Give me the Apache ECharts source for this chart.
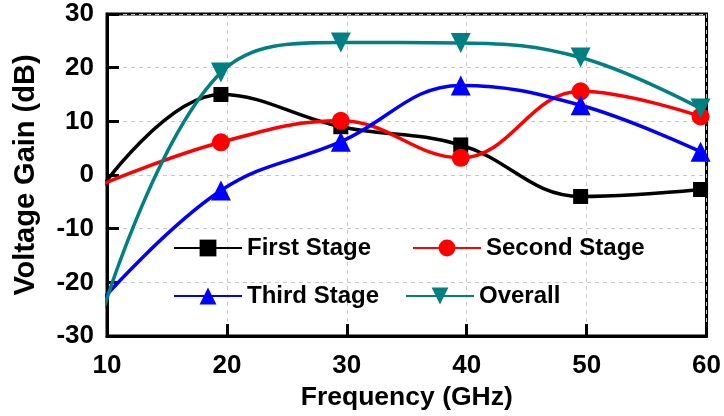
<!DOCTYPE html>
<html>
<head>
<meta charset="utf-8">
<script src="https://cdn.jsdelivr.net/npm/echarts/dist/echarts.min.js"></script>
<style>
  html, body { margin: 0; padding: 0; background: #fff; }
  #main { width: 724px; height: 416px; }
</style>
</head>
<body>
<div id="main"></div>
<script>
// frequencies (GHz) where the points were measured
const freq = [9.5, 19.5, 29.5, 39.5, 49.5, 59.5]
// voltage gain (dB) per stage
const firstStage = [-2.5, 15.0, 9.0, 5.6, -4.0, -2.7]
const secondStage = [-1.8, 6.1, 10.1, 3.2, 15.6, 10.9]
const thirdStage = [-23.5, -2.9, 6.2, 16.7, 13.0, 4.35]
const overall = [-26.5, 19.1, 24.7, 24.6, 21.9, 12.4]

const xMin = 10, xMax = 60, xStep = 10
const yMin = -30, yMax = 30, yStep = 10

const font = 'Liberation Sans, Arial, sans-serif'

function pairs(vals) {
  return freq.map((f, i) => [f, vals[i]])
}

function makeSeries(name, vals, color, symbol, size, rotate) {
  return {
    name: name,
    type: 'line',
    data: pairs(vals),
    smooth: 0.4,
    clip: true,
    symbol: symbol,
    symbolSize: size,
    symbolRotate: rotate || 0,
    lineStyle: { color: color, width: 3.5 },
    itemStyle: { color: color },
  }
}

function legendAt(name, left, top) {
  return {
    data: [name],
    left: left,
    top: top,
    padding: 0,
    itemWidth: 68,
    itemHeight: 21,
    itemGap: 0,
    textStyle: { fontFamily: font, fontWeight: 'bold', fontSize: 24, color: '#000' },
  }
}

let myChart = echarts.init(document.getElementById('main'))
const option = {
  animation: false,
  grid: {
    left: 107,
    right: 17,
    top: 14,
    bottom: 80,
    show: true,
    borderColor: '#000',
    borderWidth: 3,
  },
  legend: [
    legendAt('First Stage', 173, 236),
    legendAt('Second Stage', 412, 236),
    legendAt('Third Stage', 173, 284),
    legendAt('Overall', 405, 284),
  ],
  xAxis: {
    type: 'value',
    min: xMin,
    max: xMax,
    interval: xStep,
    name: 'Frequency (GHz)',
    nameLocation: 'middle',
    nameGap: 45,
    nameTextStyle: { fontFamily: font, fontWeight: 'bold', fontSize: 26.5, color: '#000' },
    axisLine: { onZero: false, lineStyle: { color: '#000', width: 3 } },
    axisTick: { inside: true, length: 12, lineStyle: { color: '#000', width: 3 } },
    axisLabel: { margin: 17, fontFamily: font, fontWeight: 'bold', fontSize: 26, color: '#000' },
    splitLine: { show: true, lineStyle: { color: '#c8c8c8', width: 1, type: [4, 4] } },
  },
  yAxis: {
    type: 'value',
    min: yMin,
    max: yMax,
    interval: yStep,
    name: 'Voltage Gain (dB)',
    nameLocation: 'middle',
    nameGap: 67,
    nameTextStyle: { fontFamily: font, fontWeight: 'bold', fontSize: 29, color: '#000' },
    axisLine: { onZero: false, lineStyle: { color: '#000', width: 3 } },
    axisTick: { inside: true, length: 12, lineStyle: { color: '#000', width: 3 } },
    axisLabel: { margin: 13, fontFamily: font, fontWeight: 'bold', fontSize: 26, color: '#000' },
    splitLine: { show: true, lineStyle: { color: '#c8c8c8', width: 1, type: [4, 4] } },
  },
  series: [
    makeSeries('First Stage', firstStage, '#000000', 'rect', 15),
    makeSeries('Second Stage', secondStage, '#ff0000', 'circle', 18),
    makeSeries('Third Stage', thirdStage, '#0000ff', 'triangle', 20),
    makeSeries('Overall', overall, '#008080', 'triangle', 20, 180),
  ],
}
myChart.setOption(option)
</script>
</body>
</html>
